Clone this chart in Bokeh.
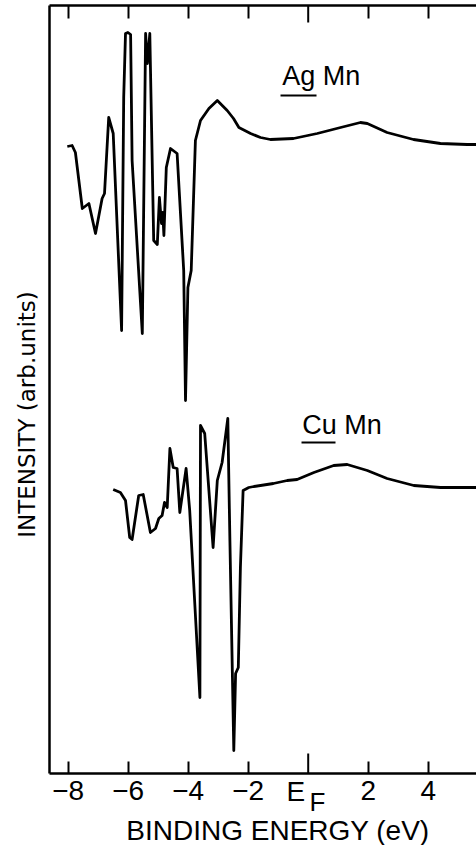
import math
from bokeh.plotting import figure
from bokeh.models import Range1d, LinearAxis, FixedTicker, Label
from bokeh.embed import file_html
from bokeh.resources import INLINE

# ---- data (binding energy in eV, intensity in arbitrary units) ----
ag_energy = [-8.03, -7.87, -7.76, -7.53, -7.31, -7.09, -6.87, -6.79, -6.65, -6.50,
             -6.22, -6.15, -6.09, -6.01, -5.92, -5.87, -5.53, -5.42, -5.36, -5.28,
             -5.15, -5.03, -4.96, -4.89, -4.85, -4.81, -4.73, -4.59, -4.37, -4.15,
             -4.09, -4.01, -3.90, -3.76, -3.59, -3.31, -3.03, -2.70, -2.49, -2.31,
             -1.92, -1.59, -1.26, -0.49, 0.30, 1.08, 1.74, 1.97, 2.63, 3.51,
             4.41, 5.30, 5.61]
ag_intensity = [627, 628, 621, 565, 570, 540, 575, 580, 656, 640,
                443, 676, 740, 741, 739, 613, 440, 740, 710, 740,
                533, 529, 576, 550, 561, 538, 606, 625, 620, 503,
                373, 486, 503, 633, 653, 665, 673, 663, 655, 646,
                640, 636, 634, 635, 640, 646, 651, 650, 641, 634,
                630, 629, 629]

cu_energy = [-6.50, -6.26, -6.09, -5.95, -5.87, -5.65, -5.50, -5.26, -5.09, -4.98,
             -4.87, -4.79, -4.70, -4.61, -4.50, -4.37, -4.28, -4.07, -3.95, -3.61,
             -3.59, -3.45, -3.17, -3.03, -2.87, -2.68, -2.61, -2.48, -2.42, -2.33,
             -2.26, -2.17, -1.98, -1.81, -1.16, -0.70, -0.37, 0.19, 0.85, 1.30,
             1.97, 2.63, 3.52, 4.41, 5.30, 5.61]
cu_intensity = [284, 281, 273, 236, 234, 278, 279, 241, 245, 255,
                258, 271, 266, 325, 306, 305, 261, 305, 263, 76,
                348, 340, 226, 293, 311, 355, 233, 23, 100, 106,
                206, 283, 286, 287, 290, 293, 294, 301, 308, 309,
                303, 295, 288, 286, 286, 286]

x_ticks = [-8, -6, -4, -2, 2, 4]          # numbered ticks
ef_tick = 0                               # Fermi level tick (labelled E_F)
series_labels = ["Ag Mn", "Cu Mn"]
x_title = "BINDING ENERGY (eV)"
y_title = "INTENSITY (arb.units)"

# axis extents (data units)
X_MIN, X_MAX = -8.623, 5.61
Y_MIN, Y_MAX = 0, 768

FONT = "Liberation Sans"

p = figure(width=476, height=845, output_backend="svg", toolbar_location=None,
           x_range=Range1d(-10.257, 5.61), y_range=Range1d(-72, 773),
           min_border=0, min_border_left=0, min_border_right=0,
           min_border_top=0, min_border_bottom=0)
p.outline_line_color = None
p.grid.visible = False
p.background_fill_color = "white"
p.border_fill_color = "white"

# bottom axis
xa = p.xaxis[0]
xa.fixed_location = Y_MIN
xa.bounds = (X_MIN, X_MAX)
xa.ticker = FixedTicker(ticks=x_ticks)
xa.axis_line_width = 2.5
xa.axis_line_color = "black"
xa.major_tick_in = 12
xa.major_tick_out = 0
xa.major_tick_line_width = 2
xa.minor_tick_line_color = None
xa.major_label_text_font = FONT
xa.major_label_text_font_size = "28px"
xa.major_label_text_color = "black"
xa.major_label_standoff = 7

# left axis
ya = p.yaxis[0]
ya.fixed_location = X_MIN
ya.bounds = (Y_MIN, Y_MAX)
ya.ticker = FixedTicker(ticks=[])
ya.axis_line_width = 2.5
ya.axis_line_color = "black"
ya.major_tick_line_color = None
ya.minor_tick_line_color = None

# top axis
ta = LinearAxis(fixed_location=Y_MAX, bounds=(X_MIN, X_MAX),
                ticker=FixedTicker(ticks=x_ticks), axis_line_width=2.5,
                major_tick_in=13, major_tick_out=0, major_tick_line_width=2,
                minor_tick_line_color=None, major_label_text_color=None)
p.add_layout(ta, "above")

# longer ticks at the Fermi level
p.segment(x0=[ef_tick, ef_tick], y0=[Y_MIN, Y_MAX], x1=[ef_tick, ef_tick],
          y1=[Y_MIN + 20, Y_MAX - 17], line_color="black", line_width=2)

# curves
p.line(ag_energy, ag_intensity, line_color="black", line_width=2.8, line_join="round")
p.line(cu_energy, cu_intensity, line_color="black", line_width=2.8, line_join="round")

# series labels with underlined host element
p.add_layout(Label(x=-0.868, y=697.5, text=series_labels[0], text_font=FONT,
                   text_font_size="27px", text_color="black", text_baseline="alphabetic"))
p.add_layout(Label(x=-0.20, y=348.5, text=series_labels[1], text_font=FONT,
                   text_font_size="27px", text_color="black", text_baseline="alphabetic"))
p.segment(x0=[-0.923, -0.223], y0=[678, 331], x1=[0.277, 0.91], y1=[678, 331],
          line_color="black", line_width=2.2)

# E_F tick label
p.add_layout(Label(x=-0.723, y=-18.2, text="E", text_font=FONT,
                   text_font_size="28px", text_color="black", text_baseline="alphabetic"))
p.add_layout(Label(x=0.043, y=-28.5, text="F", text_font=FONT,
                   text_font_size="26px", text_color="black", text_baseline="alphabetic"))

# axis titles
p.add_layout(Label(x=-1.007, y=-56.5, text=x_title, text_font=FONT,
                   text_font_size="28px", text_color="black",
                   text_align="center", text_baseline="alphabetic"))
p.add_layout(Label(x=-9.373, y=359, text=y_title, text_font="DejaVu Sans",
                   text_font_size="23px", text_color="black", angle=math.pi / 2,
                   text_align="center", text_baseline="alphabetic"))

open("out.html", "w").write(file_html(p, INLINE))
